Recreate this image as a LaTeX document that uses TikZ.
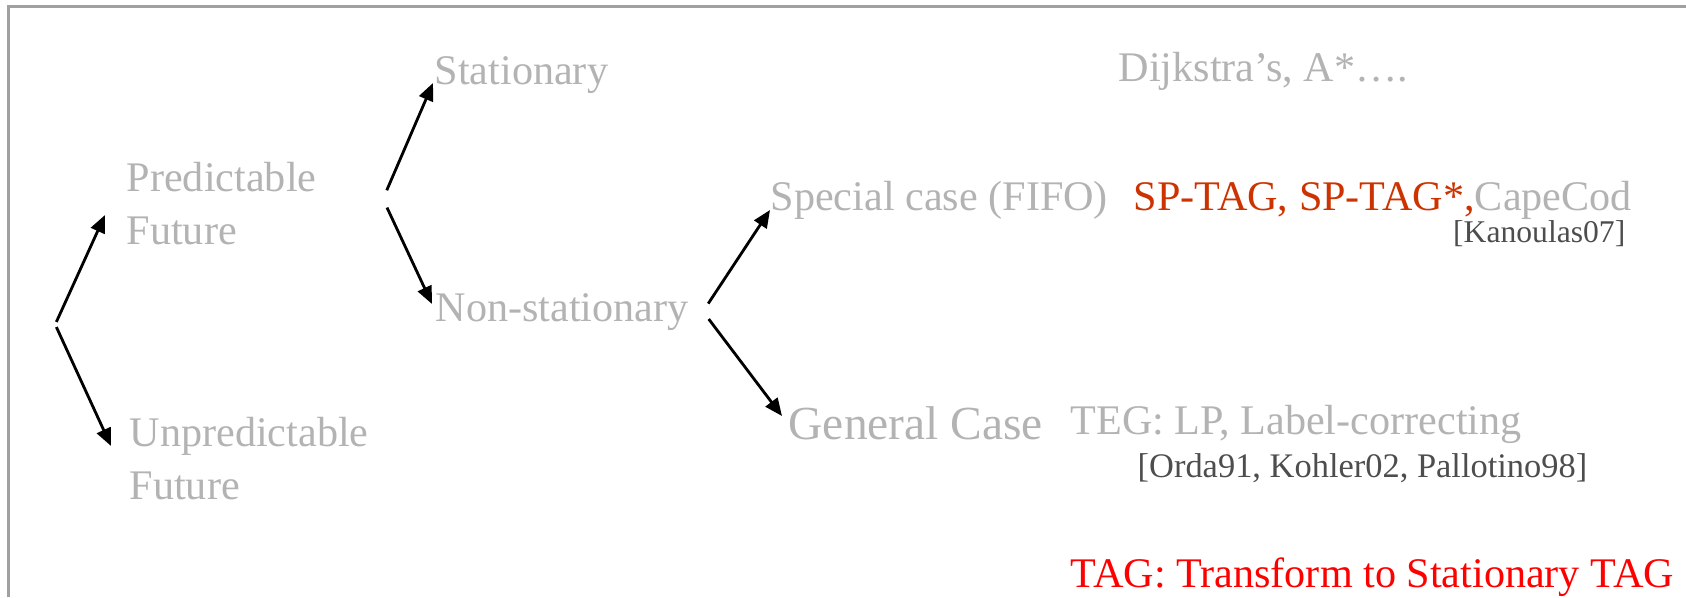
\documentclass[tikz,border=0pt]{standalone}
\usepackage{fontspec}
\setmainfont{Liberation Serif}
\usetikzlibrary{arrows.meta}

\definecolor{textgray}{HTML}{B3B3B3}
\definecolor{refgray}{HTML}{4D4D4D}
\definecolor{tagred}{HTML}{CC3300}
\definecolor{framegray}{HTML}{A0A0A0}

\begin{document}
\begin{tikzpicture}[
    txt/.style={inner sep=0pt, anchor=base west, text=textgray, align=left,
      font=\fontsize{12}{14.8}\selectfont},
    ref/.style={inner sep=0pt, text=refgray},
    branch/.style={-{Triangle[length=5pt,width=4.2pt]}, line width=0.8pt, shorten <=2.7pt}
  ]
  \useasboundingbox (0,0) rectangle (16.86,5.97);
  % Draw the frame
  \draw[framegray, line width=0.7pt] (0.083,0) |- (16.86,5.907);

  % Split points of the tree
  \coordinate (root) at (0.552,2.725);
  \coordinate (fork1) at (3.83,3.98);
  \coordinate (fork2) at (7.03,2.855);

  % First level (base is the last line)
  \node[txt] (pred) at (1.26,3.53) {Predictable\\Future};
  \node[txt] (unpred) at (1.29,0.98) {Unpredictable\\Future};

  % Second level
  \node[txt] (stat) at (4.34,5.12) {Stationary};
  \node[txt] (nonstat) at (4.35,2.76) {Non-stationary};

  % Third level
  \node[txt] (special) at (7.70,3.87) {Special case (FIFO)};
  \node[txt, font=\fontsize{13.5}{16}\selectfont] (general) at (7.88,1.58) {General Case};

  % Known algorithms
  \node[txt] (dijk) at (11.18,5.15) {Dijkstra’s, A*….};
  \node[txt] (sptag) at (11.33,3.87) {\textcolor{tagred}{SP-TAG, SP-TAG*,}CapeCod};
  \node[ref, anchor=base east, font=\fontsize{9}{11}\selectfont] (kan) at (16.26,3.55) {[Kanoulas07]};
  \node[txt] (teg) at (10.70,1.63) {TEG: LP, Label-correcting};
  \node[ref, anchor=base west, font=\fontsize{9.8}{12}\selectfont] (orda) at (11.37,1.20) {[Orda91, Kohler02, Pallotino98]};

  % Note
  \node[txt, text=red] (tagnote) at (10.70,0.10) {TAG: Transform to Stationary TAG};

  % Arrows
  \draw[branch, shorten <=0.8pt] (root) -- ([shift={(-0.21,0.29)}]pred.base west);
  \draw[branch, shorten <=0.8pt] (root) -- ([shift={(-0.18,0.53)}]unpred.base west);
  \draw[branch] (fork1) -- ([shift={(-0.01,0.02)}]stat.base west);
  \draw[branch] (fork1) -- ([shift={(-0.03,0.17)}]nonstat.base west);
  \draw[branch] (fork2) -- (special.base west);
  \draw[branch] (fork2) -- ([shift={(-0.06,0.23)}]general.base west);
\end{tikzpicture}
\end{document}
